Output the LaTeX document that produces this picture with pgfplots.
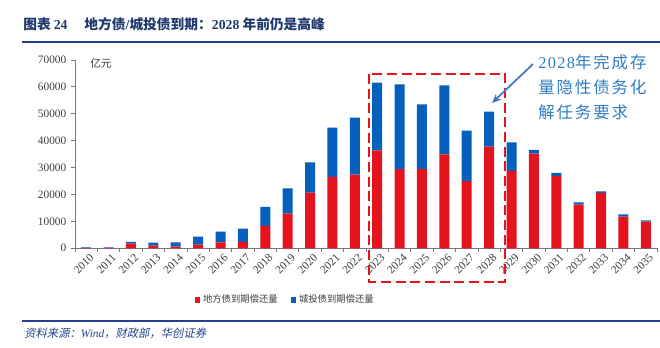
\documentclass[border=0pt]{standalone}
\usepackage{pgfplots}
\usepackage{pgfplotstable}
\pgfplotsset{compat=1.18}
\usetikzlibrary{arrows.meta}
\usepackage{fontspec}
\setmainfont{Liberation Serif}
\newfontfamily\cjk{Noto Sans CJK SC}
\newfontfamily\cjkit{Noto Sans CJK SC}[FakeSlant=0.2]
\newfontfamily\cjkann{Noto Sans CJK SC}[LetterSpace=12]
\newfontfamily\annrm{Liberation Serif}[LetterSpace=8]
\definecolor{myred}{RGB}{228,19,30}
\definecolor{myblue}{RGB}{4,96,186}
\definecolor{titleblue}{RGB}{31,56,110}
\definecolor{linecol}{RGB}{35,65,140}
\definecolor{annblue}{RGB}{46,125,195}
\definecolor{arrowblue}{RGB}{70,120,185}
\definecolor{axgray}{RGB}{120,120,120}
\definecolor{txtgray}{RGB}{60,60,60}
\pgfplotstableread{
x red blue
0 100 270
1 100 270
2 1730 610
3 980 1110
4 600 1620
5 1350 2970
6 2220 3950
7 2340 4950
8 8290 7060
9 12860 9440
10 20670 11300
11 26500 18330
12 27370 21180
13 36420 25140
14 29470 31480
15 29470 24050
16 34930 25650
17 25010 18710
18 37770 13010
19 28730 10670
20 35170 1370
21 26870 1120
22 16210 890
23 20560 630
24 11750 890
25 9910 500
}\data
\begin{document}
\begin{tikzpicture}
\path[use as bounding box] (0pt,0pt) rectangle (495pt,-261pt);
\begin{axis}[
  at={(56.25pt,-186.2pt)}, anchor=south west,
  scale only axis, width=436.5pt, height=141.2pt,
  ybar stacked, bar width=7.5pt,
  xmin=-0.5, xmax=25.5, ymin=0, ymax=70000,
  axis x line*=bottom, axis y line*=left,
  axis line style={axgray, line width=0.6pt},
  tick style={axgray, line width=0.6pt},
  tick align=outside, major tick length=3pt,
  xtick={-0.5,0.5,...,25.5}, xticklabels={},
  extra x ticks={0,...,25},
  extra x tick labels={2010,2011,2012,2013,2014,2015,2016,2017,2018,2019,2020,2021,2022,2023,2024,2025,2026,2027,2028,2029,2030,2031,2032,2033,2034,2035},
  extra x tick style={major tick length=0pt, xticklabel style={rotate=45, anchor=north east, inner sep=1pt, yshift=-3pt}},
  xticklabel style={font=\fontsize{8.5}{10}\selectfont, text=txtgray},
  ytick={0,10000,...,70000},
  yticklabel style={font=\fontsize{8.5}{10}\selectfont, text=txtgray},
  scaled y ticks=false,
  /pgf/number format/1000 sep={},
  /pgf/number format/assume math mode=true,
  legend style={at={(0.362,-0.275)}, anchor=center, draw=none, fill=none,
    legend columns=2, font=\cjk\fontsize{7}{9}\selectfont, text=txtgray,
    /tikz/every even column/.append style={column sep=8pt},
    inner sep=0pt},
  clip=false,
]
\addplot[fill=myred, draw=none, legend image code/.code={\fill[myred] (0pt,-2pt) rectangle (4pt,2pt);}] table[x=x,y=red]{\data};
\addplot[fill=myblue, draw=none, legend image code/.code={\fill[myblue] (0pt,-2pt) rectangle (4pt,2pt);}] table[x=x,y=blue]{\data};
\legend{地方债到期偿还量, 城投债到期偿还量}
\end{axis}
\begin{scope}[x=0.75pt,y=-0.75pt]
\node[anchor=base west, text=titleblue, inner sep=0pt, font=\fontsize{10.3}{12}\selectfont] at (23,30)
  {\cjk\bfseries 图表 {\rmfamily\bfseries 24}\quad\ 地方债{\rmfamily\bfseries /}城投债到期：{\rmfamily\bfseries 2028} 年前仍是高峰};
\draw[linecol, line width=1.5pt] (22,42) -- (660,42);
\node[anchor=west, inner sep=0pt, text=txtgray, font=\cjk\fontsize{8}{9}\selectfont] at (90,63) {亿元};
\draw[myred, line width=2.2pt, dash pattern=on 7.5pt off 3.5pt] (369,74) rectangle (505,282);
\node[anchor=base west, align=left, inner sep=0pt, text=annblue, font=\cjkann\fontsize{12.3}{18.75}\selectfont] at (538,119)
  {{\annrm 2028}年完成存\\量隐性债务化\\解任务要求};
\draw[arrowblue, line width=1.3pt, -{Stealth[length=7pt,width=6pt]}] (533,64) -- (492,103);
\draw[linecol, line width=1.2pt] (22,321) -- (660,321);
\node[anchor=base west, inner sep=0pt, text=linecol, font=\fontsize{8.5}{10}\selectfont] at (24,338)
  {\cjkit 资料来源：{\rmfamily\itshape Wind}，财政部，华创证券};
\end{scope}
\end{tikzpicture}
\end{document}
